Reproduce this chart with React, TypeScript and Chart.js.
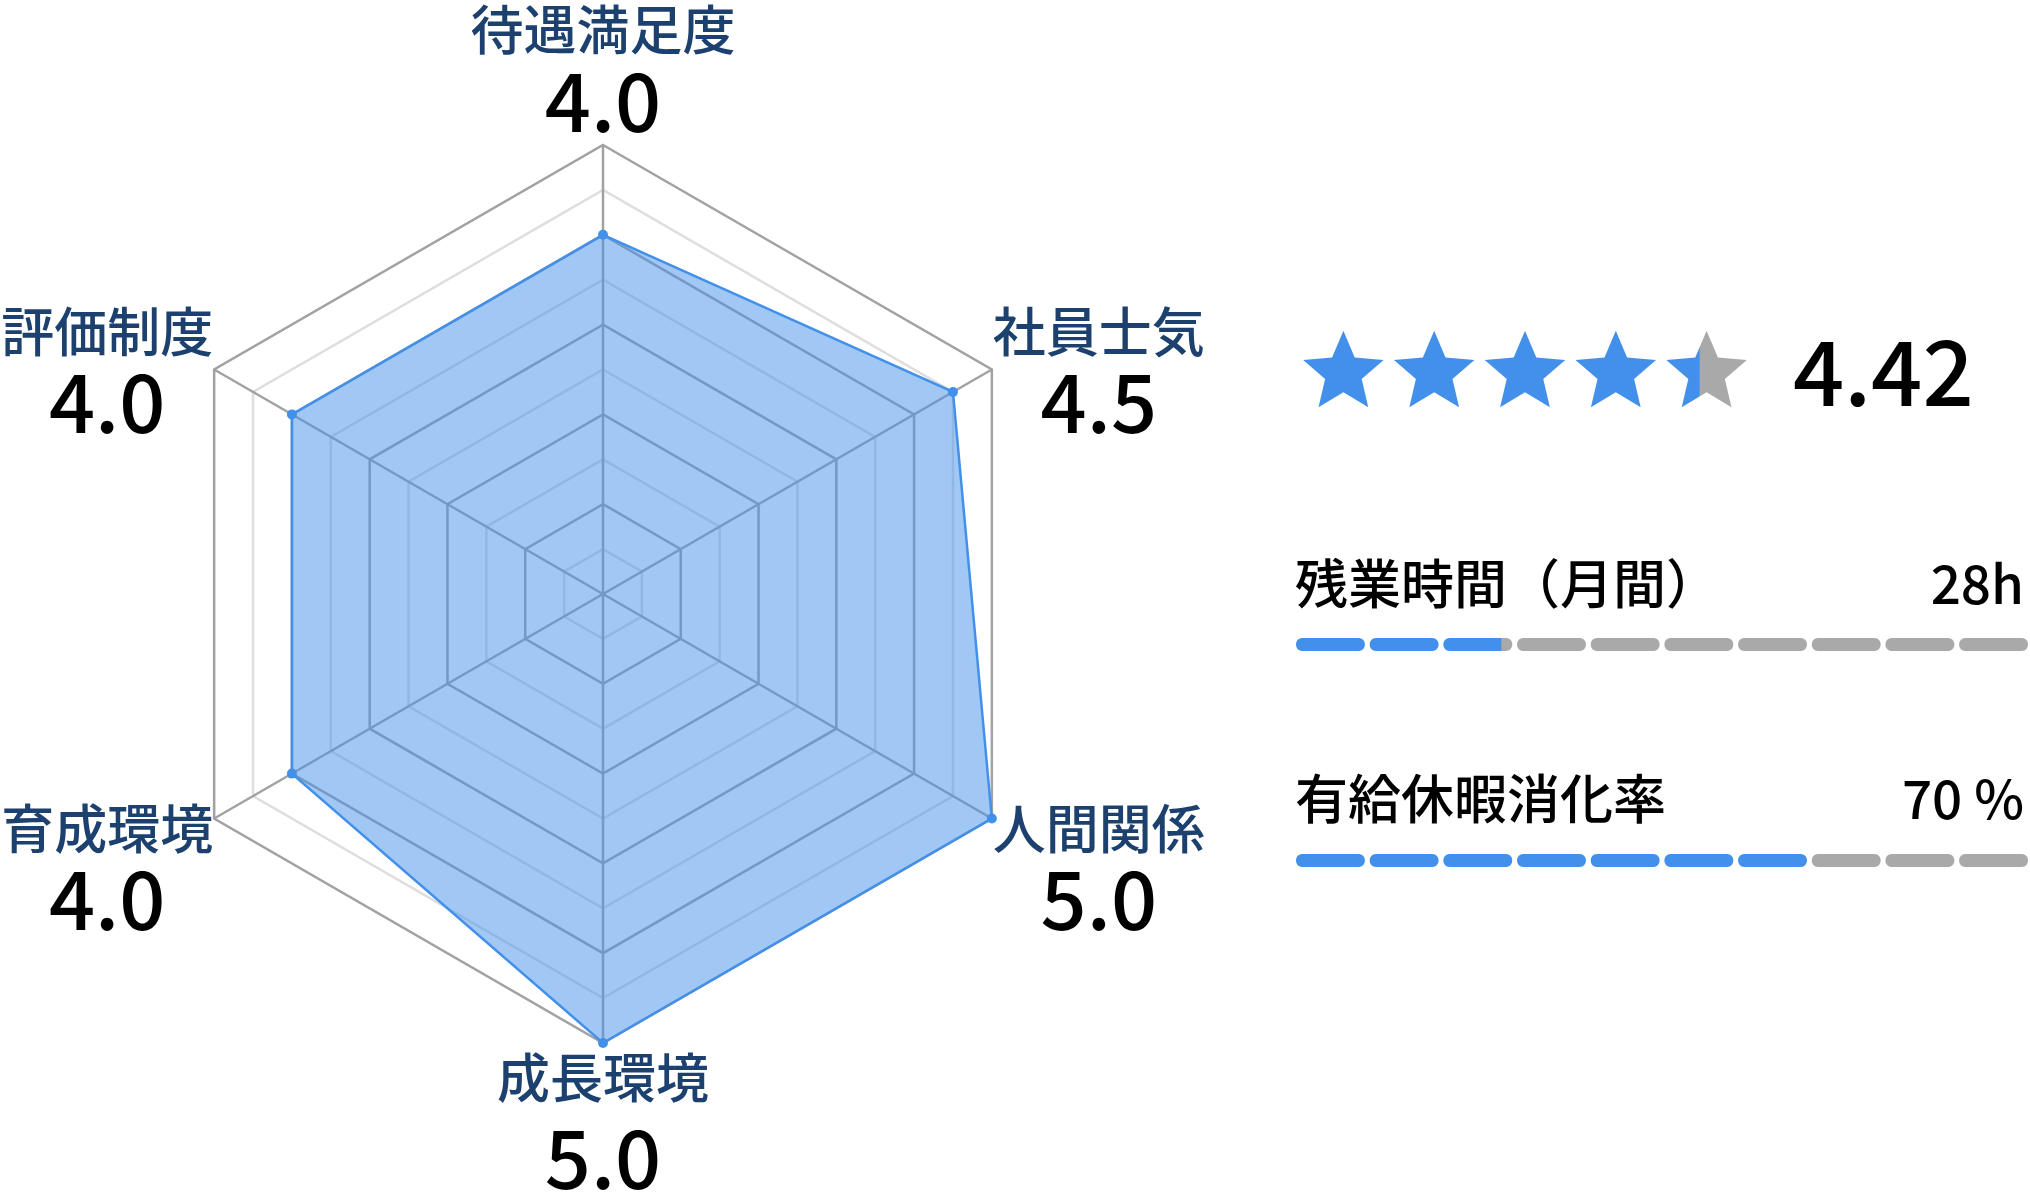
import React, { useEffect, useRef } from 'react';
import Chart from 'chart.js/auto';

// radar data (clockwise from the top)
const CATEGORIES = ['待遇満足度', '社員士気', '人間関係', '成長環境', '育成環境', '評価制度'];
const SCORES = [4.0, 4.5, 5.0, 5.0, 4.0, 4.0];
const SCALE_MAX = 5;
const SCALE_STEP = 0.5;

// overall rating
const RATING = 4.42;
const RATING_MAX = 5;

// stats with segmented bars
const STAT_LABELS = ['残業時間（月間）', '有給休暇消化率'];
const STAT_VALUES = [28, 70];
const STAT_MAX = [100, 100];
const STAT_UNITS = ['h', ' %'];
const SEGMENTS = 10;

const FONT = '"Noto Sans CJK JP Medium", "Noto Sans CJK JP", "Noto Sans", sans-serif';
const BLUE = '#4390ea';
const GREY = '#a9a9a9';
const NAVY = '#1d416f';

// label placement around each vertex: [dx, name baseline dy, value baseline dy]
const LABEL_OFFSETS: [number, number, number][] = [
  [0, -95, -13],
  [107, -18, 63],
  [107, 30, 111],
  [0, 55, 146],
  [-107, 30, 111],
  [-107, -18, 63],
];

const radarLabels = {
  id: 'radarLabels',
  afterDraw(chart: any) {
    const scale = chart.scales.r;
    const ctx = chart.ctx;
    ctx.save();
    ctx.textAlign = 'center';
    ctx.textBaseline = 'alphabetic';
    CATEGORIES.forEach((name, i) => {
      const p = scale.getPointPosition(i, scale.drawingArea);
      const [dx, nameDy, valueDy] = LABEL_OFFSETS[i];
      ctx.fillStyle = NAVY;
      ctx.font = `500 53px ${FONT}`;
      ctx.fillText(name, p.x + dx, p.y + nameDy);
      ctx.fillStyle = '#000';
      ctx.font = `500 81px ${FONT}`;
      ctx.fillText(SCORES[i].toFixed(1), p.x + dx, p.y + valueDy);
    });
    ctx.restore();
  },
};

const RadarChart: React.FC = () => {
  const chartRef = useRef<HTMLCanvasElement>(null);

  useEffect(() => {
    if (!chartRef.current) return;
    const chart = new Chart(chartRef.current, {
      type: 'radar',
      data: {
        labels: CATEGORIES,
        datasets: [
          {
            data: SCORES,
            borderColor: BLUE,
            backgroundColor: 'rgba(67, 144, 234, 0.5)',
            borderWidth: 2.5,
            pointRadius: 5,
            pointBorderWidth: 0,
            pointBackgroundColor: BLUE,
            fill: true,
            clip: false,
          } as any,
        ],
      },
      options: {
        responsive: false,
        animation: false,
        layout: { padding: { left: 154, top: 145, right: 168, bottom: 152 } },
        plugins: { legend: { display: false }, tooltip: { enabled: false } },
        scales: {
          r: {
            min: 0,
            max: SCALE_MAX,
            ticks: { stepSize: SCALE_STEP, display: false },
            grid: {
              color: (c: any) =>
                Math.abs(c.tick.value - Math.round(c.tick.value)) < 1e-6 ? '#a2a2a2' : '#dedede',
              lineWidth: 2.5,
            },
            angleLines: { color: '#a2a2a2', lineWidth: 2.5 },
            pointLabels: { display: false },
          },
        },
      },
      plugins: [radarLabels],
    });
    return () => chart.destroy();
  }, []);

  return (
    <canvas
      ref={chartRef}
      width={1220}
      height={1195}
      style={{ position: 'absolute', left: 0, top: 0 }}
    />
  );
};

// material "star" outline, in a 24-unit box
const STAR_SHAPE = [
  [12, 2], [14.81, 8.63], [22, 9.24], [16.54, 13.97], [18.18, 21],
  [12, 17.27], [5.82, 21], [7.46, 13.97], [2, 9.24], [9.19, 8.63],
];

const starMask = {
  id: 'starMask',
  afterDatasetsDraw(chart: any) {
    const { ctx, chartArea } = chart;
    const x = chart.scales.x;
    const pitch = x.getPixelForValue(1) - x.getPixelForValue(0);
    const s = (pitch * 0.887) / 20;
    const cy = (chartArea.top + chartArea.bottom) / 2;
    ctx.save();
    ctx.globalCompositeOperation = 'destination-in';
    ctx.beginPath();
    for (let i = 0; i < RATING_MAX; i++) {
      const cx = x.getPixelForValue(i + 0.5);
      STAR_SHAPE.forEach(([px, py], k) => {
        const X = cx + (px - 12) * s;
        const Y = cy + (py - 11.5) * s;
        if (k === 0) ctx.moveTo(X, Y);
        else ctx.lineTo(X, Y);
      });
      ctx.closePath();
    }
    ctx.fillStyle = '#000';
    ctx.fill();
    ctx.restore();
  },
};

const segmentMask = {
  id: 'segmentMask',
  afterDatasetsDraw(chart: any) {
    const { ctx, chartArea } = chart;
    const x = chart.scales.x;
    const left = x.getPixelForValue(x.min);
    const right = x.getPixelForValue(x.max);
    const gap = 4.8;
    const segW = (right - left - (SEGMENTS - 1) * gap) / SEGMENTS;
    const h = chartArea.bottom - chartArea.top;
    ctx.save();
    ctx.globalCompositeOperation = 'destination-in';
    ctx.beginPath();
    for (let i = 0; i < SEGMENTS; i++) {
      ctx.roundRect(left + i * (segW + gap), chartArea.top, segW, h, 6);
    }
    ctx.fillStyle = '#000';
    ctx.fill();
    ctx.restore();
  },
};

interface MaskedBarProps {
  value: number;
  max: number;
  mask: any;
  width: number;
  height: number;
  left: number;
  top: number;
}

const MaskedBar: React.FC<MaskedBarProps> = ({ value, max, mask, width, height, left, top }) => {
  const chartRef = useRef<HTMLCanvasElement>(null);

  useEffect(() => {
    if (!chartRef.current) return;
    const chart = new Chart(chartRef.current, {
      type: 'bar',
      data: {
        labels: [''],
        datasets: [
          { data: [value], backgroundColor: BLUE, grouped: false, barPercentage: 1, categoryPercentage: 1, borderWidth: 0 } as any,
          { data: [max], backgroundColor: GREY, grouped: false, barPercentage: 1, categoryPercentage: 1, borderWidth: 0 } as any,
        ],
      },
      options: {
        indexAxis: 'y',
        responsive: false,
        animation: false,
        layout: { padding: 0 },
        plugins: { legend: { display: false }, tooltip: { enabled: false } },
        scales: {
          x: { display: false, min: 0, max },
          y: { display: false },
        },
      },
      plugins: [mask],
    });
    return () => chart.destroy();
  }, [value, max, mask]);

  return (
    <canvas
      ref={chartRef}
      width={width}
      height={height}
      style={{ position: 'absolute', left, top }}
    />
  );
};

// text placed by its baseline (Noto Sans CJK: baseline = top + 0.936 * size at line-height 1)
const Text: React.FC<{
  text: string;
  size: number;
  baseline: number;
  left?: number;
  right?: number;
}> = ({ text, size, baseline, left, right }) => (
  <div
    style={{
      position: 'absolute',
      left,
      right,
      top: baseline - 0.936 * size,
      fontFamily: FONT,
      fontWeight: 500,
      fontSize: size,
      lineHeight: `${size}px`,
      color: '#000',
      whiteSpace: 'pre',
    }}
  >
    {text}
  </div>
);

const BAR_TOPS = [638, 854];
const TEXT_BASELINES = [605, 820];

export default function App() {
  return (
    <div
      style={{
        position: 'absolute',
        left: 0,
        top: 0,
        width: 2030,
        height: 1195,
        background: '#fff',
        overflow: 'hidden',
      }}
    >
      <RadarChart />
      <MaskedBar value={RATING} max={RATING_MAX} mask={starMask} width={454} height={86} left={1298} top={326} />
      <Text text={RATING.toFixed(2)} size={90} baseline={406} left={1793} />
      {STAT_LABELS.map((label, i) => (
        <React.Fragment key={label}>
          <Text text={label} size={53} baseline={TEXT_BASELINES[i]} left={1295} />
          <Text text={`${STAT_VALUES[i]}${STAT_UNITS[i]}`} size={53} baseline={TEXT_BASELINES[i]} right={6} />
          <MaskedBar
            value={STAT_VALUES[i]}
            max={STAT_MAX[i]}
            mask={segmentMask}
            width={732}
            height={13}
            left={1296}
            top={BAR_TOPS[i]}
          />
        </React.Fragment>
      ))}
    </div>
  );
}
